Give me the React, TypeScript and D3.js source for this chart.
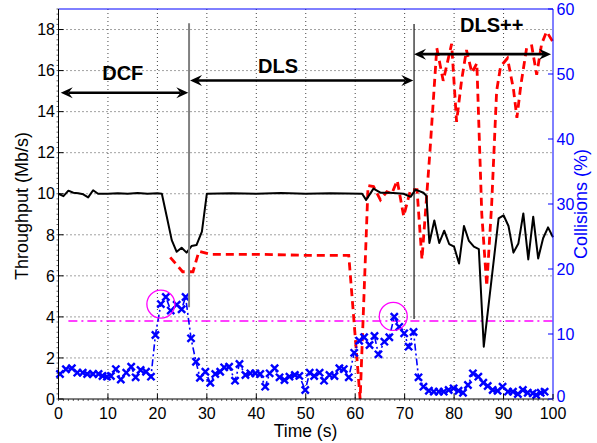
import React from 'react';
import * as d3 from 'd3';

// throughput, black solid (left axis, Mb/s)
const tputTime = [0, 1, 2, 3, 4, 5, 6, 7, 8, 10, 12, 14, 16, 18, 20, 20.9, 21.9, 22.9, 23.9, 24.9, 25.9, 26.9, 27.9, 29.0, 30.0,
  35, 40, 45, 50, 55, 61.4, 62.2, 63.7, 65.1, 67, 69.8, 71.2, 72.2, 73.8, 74.4, 75.0, 76.0, 77.0, 78.0, 79.0, 80.0,
  81.0, 82.0, 83.0, 84.0, 85.0, 86.0, 89.0, 90.0, 91.0, 92.0, 93.0, 94.0, 95.0, 96.0, 97.0, 98.0, 99.0, 100];
const tputVal = [10.0, 9.88, 10.15, 10.05, 10.02, 9.97, 9.82, 10.17, 10.0, 10.0, 10.02, 10.0, 10.03, 10.0, 10.02, 10.0, 8.88, 7.74, 7.17, 7.37, 7.13, 7.45, 7.5, 8.15, 10.0,
  10.02, 10.0, 10.03, 10.0, 10.02, 10.0, 9.7, 10.25, 10.05, 10.05, 10.0, 9.85, 10.2, 10.05, 9.9, 7.6, 8.7, 7.6, 8.2, 7.55, 7.42,
  6.6, 8.43, 7.7, 7.42, 7.3, 2.55, 8.8, 8.95, 8.43, 7.13, 7.58, 9.04, 6.8, 8.88, 6.85, 7.83, 8.36, 7.88];

// red dashed (left axis, Mb/s)
const dashTime = [22.6, 25.1, 27.2, 28.4, 30.7, 40, 50, 58.7, 61.0, 62.6, 63.7, 65.1, 66.4, 67.4, 68.5, 69.8, 71.2, 72.5, 73.5,
  75.1, 76.5, 77.8, 79.5, 80.5, 81.5, 82.5, 83.6, 84.6, 85.6, 86.6, 87.6, 88.6, 89.4, 90.8, 92.0, 92.7, 93.5, 94.7, 95.7,
  96.7, 97.7, 98.7, 100];
const dashVal = [6.9, 6.2, 6.2, 7.2, 7.05, 7.05, 7.0, 7.0, 0, 10.4, 10.35, 9.7, 10.1, 10.0, 10.65, 8.9, 10.2, 10.2, 6.8,
  12.0, 17.1, 15.5, 17.3, 13.5, 15.5, 17.0, 15.9, 16.35, 9.0, 5.5, 9.5, 15.0, 16.2, 16.6, 15.1, 13.7, 15.3, 17.15, 17.2,
  15.8, 17.3, 17.9, 17.4];

// collisions, blue x markers (right axis, %)
const collTime = [0.3, 1.5, 2.7, 3.8, 4.9, 5.8, 7.0, 8.1, 8.9, 9.8, 10.6, 11.6, 12.6, 13.7, 14.7, 15.6, 16.6, 17.7, 18.7, 19.6,
  20.7, 21.7, 22.7, 23.9, 24.9, 25.7, 26.8, 27.8, 28.6, 29.7, 30.7, 31.7, 32.7, 33.5, 34.5, 35.7, 36.6, 37.8, 38.8, 39.8,
  40.8, 41.8, 42.7, 43.7, 44.7, 45.7, 46.7, 47.8, 48.7, 49.9, 50.8, 51.7, 52.8, 53.7, 54.8, 55.8, 56.8, 57.7, 58.7, 59.8,
  60.8, 61.8, 62.9, 63.9, 64.7, 65.9, 66.9, 67.9, 68.9, 69.9, 70.8, 71.8, 72.8, 73.8, 74.9, 75.9, 76.9, 77.9, 78.9, 79.9,
  80.9, 81.8, 82.8, 83.8, 84.9, 85.9, 86.8, 87.8, 88.8, 89.8, 90.9, 91.9, 92.9, 93.9, 94.9, 95.9, 96.6, 97.5, 98.3];
const collVal = [3.85, 4.57, 4.72, 4.05, 4.05, 3.85, 3.85, 3.85, 3.54, 3.44, 3.54, 4.6, 3.0, 4.05, 4.97, 3.33, 4.46, 4.2, 3.44, 9.85,
  14.6, 15.7, 13.6, 14.5, 13.8, 15.7, 9.33, 5.74, 3.28, 4.2, 2.5, 3.85, 4.2, 4.87, 4.97, 2.82, 5.38, 3.69, 3.95, 3.95,
  3.85, 1.9, 3.95, 4.72, 3.33, 2.92, 3.44, 3.69, 3.55, 1.38, 4.05, 3.54, 4.05, 2.82, 3.69, 3.54, 4.72, 4.6, 3.33, 7.1,
  8.97, 9.49, 8.3, 9.69, 6.87, 8.82, 9.49, 12.66, 11.1, 10.1, 8.05, 10.3, 3.33, 1.9, 1.28, 1.13, 1.13, 1.13, 1.38, 1.64,
  1.28, 0.97, 2.15, 3.95, 3.44, 2.51, 2.0, 1.38, 1.28, 1.9, 1.13, 1.13, 0.77, 1.38, 0.97, 0.87, 0.62, 0.97, 1.13];

const collThreshold = 12; // %
const circleTime = [20.7, 67.7];
const circleColl = [14.6, 12.7];

// phases
const phaseNames = ['DCF', 'DLS', 'DLS++'];
const phaseFrom = [0.45, 26.6, 71.9];
const phaseTo = [26.25, 71.75, 99.6];
const phaseArrowY = [14.92, 15.52, 16.8];
const phaseLabelX = [13.0, 44.4, 87.6];
const phaseLabelY = [15.55, 15.9, 17.9];
const boundTime = [26.4, 71.9];
const boundTop = [18.3, 18.27];
const boundBottom = [4.47, 3.9];

const xTicks = [0, 10, 20, 30, 40, 50, 60, 70, 80, 90, 100];
const yLeftTicks = [0, 2, 4, 6, 8, 10, 12, 14, 16, 18];
const yRightTicks = [0, 10, 20, 30, 40, 50, 60];

const FONT = '"Liberation Sans", Arial, Helvetica, sans-serif';
const BLUE = '#0000ff';

export default function App() {
  const x = d3.scaleLinear().domain([0, 100]).range([58.5, 553]);
  const yL = d3.scaleLinear().domain([0, 19]).range([399, 9]);
  const yR = d3.scaleLinear().domain([0, 60]).range([399, 9]);

  const tputPath = d3.line<number>().x(d => x(tputTime[d])).y(d => yL(tputVal[d]))(d3.range(tputTime.length));
  const dashPath = d3.line<number>().x(d => x(dashTime[d])).y(d => yL(dashVal[d]))(d3.range(dashTime.length));
  const collPath = d3.line<number>().x(d => x(collTime[d])).y(d => yR(collVal[d]))(d3.range(collTime.length));

  const [xa, xb] = x.range();
  const [yb, ya] = yL.range();

  // ruler-like minor ticks
  const minorX = d3.range(0, 100.01, 1);
  const minorY = d3.range(0, 19.01, 0.25);

  const arrowHead = (tx: number, ty: number, dir: number) => {
    const L = 12, w = 5.5;
    return `M${tx},${ty} L${tx - dir * L},${ty - w} L${tx - dir * L * 0.65},${ty} L${tx - dir * L},${ty + w} Z`;
  };

  return (
    <svg width={597} height={443} style={{ display: 'block', position: 'absolute', left: 0, top: 0 }} fontFamily={FONT}>
      <rect width={597} height={443} fill="#fff" />
      {/* grid */}
      <g stroke="#444" strokeWidth={1} strokeDasharray="1,3">
        {xTicks.slice(1, -1).map(t => (
          <line key={'gx' + t} x1={x(t)} x2={x(t)} y1={ya} y2={yb} />
        ))}
        {yLeftTicks.slice(1).map(t => (
          <line key={'gy' + t} x1={xa} x2={xb} y1={yL(t)} y2={yL(t)} />
        ))}
      </g>

      <g stroke="#000" strokeWidth={0.6}>
        {minorX.map(t => (
          <line key={'mx' + t} x1={x(t)} x2={x(t)} y1={yb} y2={yb + 2} />
        ))}
        {minorY.map(t => (
          <line key={'my' + t} x1={xa - 2} x2={xa} y1={yL(t)} y2={yL(t)} />
        ))}
      </g>

      {/* threshold */}
      <line x1={x(2)} x2={xb} y1={yR(collThreshold)} y2={yR(collThreshold)} stroke="#ff00ff" strokeWidth={1.5}
        strokeDasharray="9,4,2,4" />

      {/* red dashed */}
      <path d={dashPath || ''} fill="none" stroke="#ff0000" strokeWidth={2.8} strokeDasharray="8,5" />

      {/* throughput */}
      <path d={tputPath || ''} fill="none" stroke="#000" strokeWidth={2} strokeLinejoin="round" />

      {/* collisions */}
      <path d={collPath || ''} fill="none" stroke={BLUE} strokeWidth={1.6} strokeDasharray="7,3,2,3" />
      <g stroke={BLUE} strokeWidth={2.4}>
        {collTime.map((t, i) => {
          const cx = x(t), cy = yR(collVal[i]), s = 3.6;
          return <path key={'m' + i} d={`M${cx - s},${cy - s}L${cx + s},${cy + s}M${cx - s},${cy + s}L${cx + s},${cy - s}`} />;
        })}
      </g>

      {circleTime.map((t, i) => (
        <circle key={'c' + i} cx={x(t)} cy={yR(circleColl[i])} r={14} fill="none" stroke="#ff00ff" strokeWidth={1.3} />
      ))}

      {/* phase boundaries */}
      <line x1={x(boundTime[0])} x2={x(boundTime[0])} y1={yL(boundTop[0])} y2={yL(boundBottom[0])} stroke="#808080" strokeWidth={2} />
      <line x1={x(boundTime[1])} x2={x(boundTime[1])} y1={yL(boundTop[1])} y2={yL(boundBottom[1])} stroke="#000" strokeWidth={1.1} />

      {phaseNames.map((n, i) => {
        const x1 = x(phaseFrom[i]), x2 = x(phaseTo[i]), yy = yL(phaseArrowY[i]);
        return (
          <g key={n}>
            <line x1={x1 + 8} x2={x2 - 8} y1={yy} y2={yy} stroke="#000" strokeWidth={2.6} />
            <path d={arrowHead(x1, yy, -1)} fill="#000" />
            <path d={arrowHead(x2, yy, 1)} fill="#000" />
            <text x={x(phaseLabelX[i])} y={yL(phaseLabelY[i])} textAnchor="middle" fontSize={20} fontWeight="bold">{n}</text>
          </g>
        );
      })}

      {/* axes */}
      <line x1={xa} x2={xb} y1={ya} y2={ya} stroke={BLUE} strokeWidth={1} />
      <line x1={xb} x2={xb} y1={ya} y2={yb} stroke={BLUE} strokeWidth={1} />
      <line x1={xa} x2={xa} y1={ya} y2={yb} stroke="#000" strokeWidth={1} />
      <line x1={xa} x2={xb} y1={yb} y2={yb} stroke="#000" strokeWidth={1} />

      <g fontSize={16} fill="#000">
        {yLeftTicks.map(t => (
          <g key={'yl' + t}>
            <line x1={xa} x2={xa + 5} y1={yL(t)} y2={yL(t)} stroke="#000" />
            <text x={55} y={yL(t)} dy="0.36em" textAnchor="end">{t}</text>
          </g>
        ))}
        {xTicks.map(t => (
          <g key={'xt' + t}>
            <line x1={x(t)} x2={x(t)} y1={yb} y2={yb - 5} stroke="#000" />
            <text x={x(t)} y={419} textAnchor="middle">{t}</text>
          </g>
        ))}
      </g>
      <g fontSize={16} fill={BLUE}>
        {yRightTicks.map(t => (
          <g key={'yr' + t}>
            <line x1={xb} x2={xb - 5} y1={yR(t)} y2={yR(t)} stroke={BLUE} />
            <text x={556.5} y={yR(t)} dy={t === 0 ? '0.2em' : '0.36em'} textAnchor="start">{t}</text>
          </g>
        ))}
      </g>

      <text x={305.5} y={436.5} textAnchor="middle" fontSize={17.5}>Time (s)</text>
      <text transform="translate(28,206) rotate(-90)" textAnchor="middle" fontSize={18}>Throughput (Mb/s)</text>
      <text transform="translate(587,204) rotate(-90)" textAnchor="middle" fontSize={18} fill={BLUE}>Collisions (%)</text>
    </svg>
  );
}
